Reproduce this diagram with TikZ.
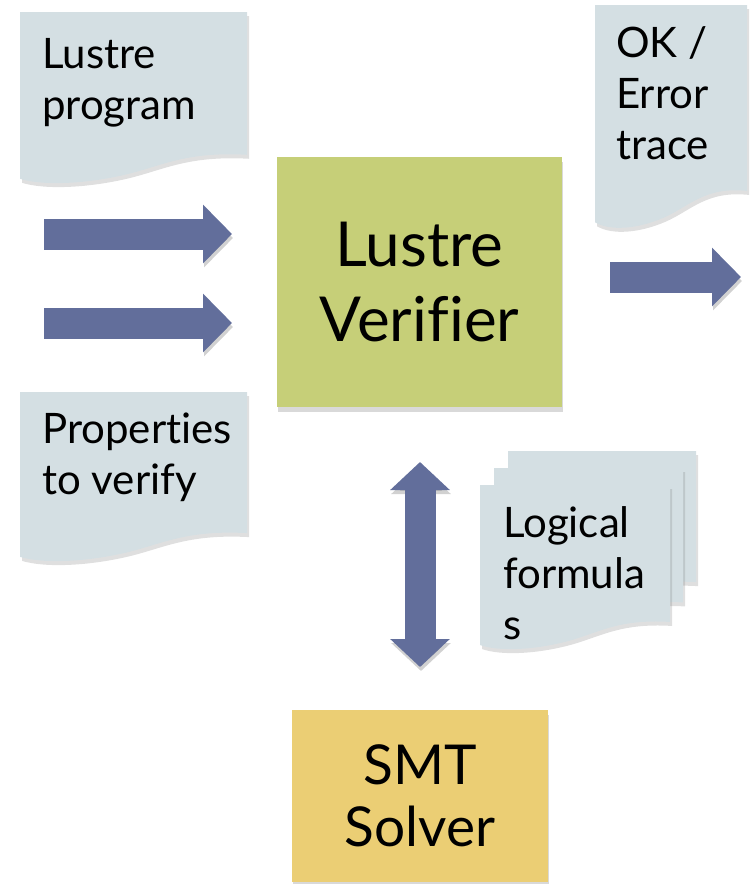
\documentclass[tikz,border=0pt]{standalone}
\usepackage{fontspec}
\setmainfont{Lato}[Ligatures=NoCommon]
\usepackage{xcolor}
\usetikzlibrary{arrows.meta, shadows}
\definecolor{sheetblue}{RGB}{212,223,227}
\definecolor{verigreen}{RGB}{198,207,120}
\definecolor{smtyellow}{RGB}{235,206,116}
\definecolor{arrowblue}{RGB}{98,110,155}
\tikzstyle{sheet} = [fill=sheetblue, drop shadow={shadow xshift=2pt, shadow yshift=-4pt, opacity=0.25}]
\tikzstyle{sheettext} = [anchor=base west, inner sep=0pt, align=left, font=\fontsize{42}{51}\selectfont]
\tikzstyle{toolbox} = [minimum width=285pt, minimum height=250pt, inner sep=0pt, align=center, drop shadow={shadow xshift=1pt, shadow yshift=-5pt, opacity=0.3}]
\tikzstyle{blockarrow} = [draw=arrowblue, line width=31pt, -{Triangle[width=57pt,length=29pt]},
  preaction={draw=black, opacity=0.18, transform canvas={xshift=1pt, yshift=-4pt}}]
% document sheet with a wavy lower edge: x, y (top left), width, height
\newcommand{\docsheet}[4]{%
  \fill[sheet] (#1,#2) -- ({#1+#3},#2) -- ({#1+#3},{#2+0.83*#4})
    .. controls ({#1+0.72*#3},{#2+0.81*#4}) and ({#1+0.62*#3},{#2+0.9*#4}) .. ({#1+0.45*#3},{#2+0.95*#4})
    .. controls ({#1+0.28*#3},{#2+1.0*#4}) and ({#1+0.1*#3},{#2+1.01*#4}) .. (#1,{#2+0.97*#4}) -- cycle;}

\begin{document}
\begin{tikzpicture}[x=1pt, y=-1pt]
    \useasboundingbox (0,0) rectangle (754,884);
    % inputs (text nodes sit on their last baseline)
    \docsheet{20}{12}{227}{172}
    \node[sheettext] (prog) at (42,119) {Lustre\\program};
    \docsheet{20}{392}{227}{170}
    \node[sheettext] (props) at (42,494) {Properties\\to verify};
    % verifier and solver
    \node[toolbox, fill=verigreen, font=\fontsize{62}{75}\selectfont] (verifier) at (419.5,282) {Lustre\\Verifier};
    \node[toolbox, fill=smtyellow, minimum width=256pt, minimum height=172pt, font=\fontsize{55}{62}\selectfont] (smt) at (420,796) {SMT\\Solver};
    % output
    \docsheet{595}{5}{152}{224}
    \node[sheettext] (result) at (616,159) {OK /\\Error\\trace};
    % stacked formulas
    \docsheet{508}{451}{188}{158}
    \docsheet{494}{468}{189}{162}
    \docsheet{480}{485}{190}{165}
    \node[sheettext] (formulas) at (503,639) {Logical\\formula\\s};
    % arrows
    \coordinate (in1a) at (44,234);  \coordinate (in1b) at (232,234);
    \coordinate (in2a) at (44,323);  \coordinate (in2b) at (232,323);
    \coordinate (outa) at (610,277); \coordinate (outb) at (741,277);
    \coordinate (smta) at (420,462); \coordinate (smtb) at (420,667);
    \draw[blockarrow] (in1a) -- (in1b);
    \draw[blockarrow] (in2a) -- (in2b);
    \draw[blockarrow] (outa) -- (outb);
    \draw[blockarrow, {Triangle[width=58pt,length=28pt]}-{Triangle[width=58pt,length=28pt]}] (smta) -- (smtb);
  \end{tikzpicture}
\end{document}
